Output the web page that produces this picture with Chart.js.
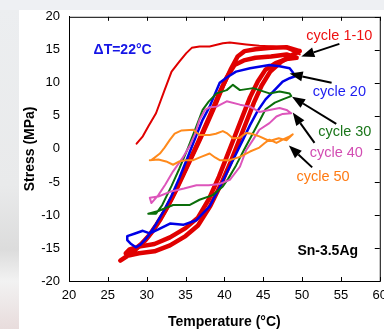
<!DOCTYPE html>
<html>
<head>
<meta charset="utf-8">
<script src="https://cdn.jsdelivr.net/npm/chart.js@4.4.0/dist/chart.umd.min.js"></script>
<style>
    html, body { margin: 0; padding: 0; }
    body { width: 384px; height: 329px; background: #eef0f3; position: relative; overflow: hidden; }
    #side { position: absolute; left: 0; top: 10px; width: 19px; height: 319px;
            background: linear-gradient(#eceef0 0%, #e9eaeb 55%, #dcdcdc 75%, #f2f2f2 85%, #e8dcdc 100%); }
    #panel { position: absolute; left: 19px; top: 10px; width: 375px; height: 319px; background: #fff; }
    #stressChart { position: absolute; left: 19px; top: 0; }
</style>
</head>
<body>
<div id="side"></div>
<div id="panel"></div>
<canvas id="stressChart" width="375" height="329"></canvas>
<script>
// Temperature (°C) / stress (MPa), one pair of arrays per curve

// cycle 1, first loading
const redFirstT = [28.7, 29.5, 30.2, 31.2, 32.3, 33.2, 34.2, 35.1, 35.8, 36.8, 38.1, 39.8, 40.7, 42.8, 44.5, 46.3, 48.0, 49.7];
const redFirstS = [0.8, 1.9, 3.4, 5.4, 8.9, 11.7, 13.2, 14.5, 15.3, 15.5, 15.5, 16.0, 16.1, 15.8, 15.6, 15.5, 15.2, 14.3];

// cycles 1-10 band (outer and inner loop)
const redOuterT = [49.7, 48.0, 46.0, 44.0, 42.6, 41.7, 40.8, 39.8, 38.8, 37.8, 36.8, 35.8, 34.8, 33.8, 32.8, 31.8, 30.8, 29.8, 28.8, 27.8, 26.6,
                   27.5, 29.0, 31.0, 33.0, 35.0, 36.6, 38.2, 39.7, 40.8, 41.8, 42.8, 43.8, 44.8, 45.9, 47.3, 48.7, 49.7];
const redOuterS = [14.8, 15.4, 15.3, 15.1, 14.8, 14.0, 12.0, 9.5, 6.6, 3.9, 1.3, -1.2, -3.7, -6.2, -8.5, -10.6, -12.4, -13.9, -15.0, -16.0, -16.9,
                   -16.2, -15.8, -15.5, -14.6, -13.2, -11.6, -8.6, -5.0, -2.0, 1.0, 4.0, 7.0, 9.6, 11.7, 13.2, 14.2, 14.8];
const redInnerT = [49.3, 48.0, 46.0, 44.0, 42.5, 41.3, 40.3, 39.3, 38.3, 37.3, 36.3, 35.3, 34.3, 33.3, 32.3, 31.3, 30.3, 29.3, 28.3, 27.3,
                   27.8, 29.0, 31.0, 33.0, 35.0, 36.6, 38.0, 39.3, 40.3, 41.3, 42.3, 43.3, 44.3, 45.3, 46.6, 48.0, 49.3];
const redInnerS = [13.8, 14.3, 14.0, 13.8, 13.4, 12.7, 10.8, 8.3, 5.5, 2.8, 0.2, -2.3, -4.8, -7.3, -9.5, -11.4, -13.1, -14.4, -15.3, -15.8,
                   -15.2, -14.8, -14.4, -13.4, -12.0, -10.4, -7.6, -4.2, -1.2, 1.8, 4.8, 7.8, 10.2, 12.0, 13.0, 13.6, 13.8];

// cycle 20
const blueT = [49.1, 48.8, 48.4, 47.1, 45.8, 43.3, 41.5, 40.3, 39.4, 38.6, 38.1, 37.2, 36.2, 35.2, 34.2, 33.2, 32.2, 31.2, 30.2, 29.2, 28.6, 28.0, 27.5, 27.5,
               28.5, 29.5, 30.4, 31.5, 33.0, 34.7, 36.4, 38.1, 39.4, 40.4, 41.4, 42.4, 43.3, 44.3, 45.3, 46.3, 47.5, 48.4, 49.1];
const blueS = [11.0, 11.6, 12.2, 12.5, 12.7, 12.2, 11.7, 10.8, 10.0, 7.8, 6.4, 4.4, 1.5, -1.5, -4.4, -7.1, -9.4, -11.4, -13.2, -14.5, -14.9, -14.4, -13.8, -13.2,
               -12.8, -12.4, -12.8, -12.2, -11.3, -11.5, -10.8, -8.7, -5.8, -3.4, -1.0, 1.4, 3.6, 5.8, 7.5, 8.7, 10.2, 10.7, 11.0];

// cycle 30
const greenT = [48.6, 48.4, 47.1, 45.8, 44.5, 43.7, 42.0, 41.1, 40.3, 39.0, 38.0, 37.2, 36.2, 35.2, 34.2, 33.2, 32.0, 31.2, 30.2,
                31.5, 33.4, 35.5, 36.8, 38.5, 39.8, 40.5, 41.5, 42.5, 43.5, 44.5, 45.3, 46.5, 47.5, 48.6];
const greenS = [8.0, 8.4, 8.7, 8.4, 8.9, 9.2, 8.9, 9.7, 8.9, 8.4, 7.2, 5.9, 2.8, -0.2, -3.0, -5.6, -8.5, -9.8, -9.8,
                -9.4, -8.5, -8.5, -7.7, -7.0, -5.7, -4.5, -2.5, -0.2, 2.0, 4.2, 6.0, 7.0, 7.5, 8.0];

// cycle 40
const pinkT = [48.6, 48.0, 47.1, 45.8, 44.5, 43.3, 42.0, 40.3, 39.0, 38.1, 37.5, 36.8, 36.2, 35.6, 34.6, 33.4, 32.4, 31.5, 30.6,
               30.4, 31.5, 33.0, 34.8, 36.4, 38.0, 39.4, 40.7, 42.0, 42.8, 43.7, 44.5, 45.8, 46.7, 47.5, 48.6];
const pinkS = [5.4, 5.9, 6.2, 5.9, 5.6, 6.4, 6.7, 7.2, 6.4, 6.3, 5.9, 4.4, 2.2, 0.6, -1.4, -3.4, -5.4, -7.0, -8.2,
               -7.4, -7.2, -6.5, -6.0, -5.5, -5.5, -5.3, -4.7, -2.7, -0.2, 1.4, 2.9, 3.9, 4.9, 5.3, 5.4];

// cycle 50
const orangeT = [30.4, 31.5, 32.5, 33.4, 34.2, 35.1, 36.0, 37.0, 38.1, 38.8, 39.4, 40.7, 42.0, 43.3, 44.5, 45.2, 45.8, 46.7, 47.5, 48.4, 48.8,
                 48.0, 47.0, 45.8, 44.5, 43.5, 42.8, 42.0, 41.1, 40.3, 39.8, 38.9, 38.1, 36.8, 36.0, 34.5, 33.6, 33.0, 32.3, 31.7, 30.6];
const orangeS = [-1.7, -1.6, -1.9, -2.4, -1.9, -1.7, -1.7, -1.2, -0.7, -1.3, -1.7, -1.7, -1.2, -0.4, 0.2, 0.9, 1.4, 0.9, 1.4, 1.9, 2.2,
                 1.3, 1.6, 1.2, 1.9, 2.3, 2.4, 1.7, 1.6, 2.4, 2.7, 2.3, 2.1, 2.1, 2.9, 2.8, 2.3, 1.4, 0.2, -0.7, -1.7];

// axis ticks
const tempTicks = [20, 25, 30, 35, 40, 45, 50, 55, 60];
const stressTicks = [-20, -15, -10, -5, 0, 5, 10, 15, 20];

// labels and arrows, placed in data units
const noteText = ['cycle 1-10', 'cycle 20', 'cycle 30', 'cycle 40', 'cycle 50'];
const noteT = [54.8, 54.8, 55.5, 54.4, 52.7];
const noteS = [17.1, 8.6, 2.6, -0.6, -4.2];
const arrowFromT = [54.8, 53.8, 54.4, 51.6, 51.3];
const arrowFromS = [15.9, 10.0, 3.8, 0.9, -2.8];
const arrowToT = [49.9, 48.4, 48.7, 48.8, 48.3];
const arrowToS = [14.0, 11.4, 7.9, 5.5, 0.5];

const noteColors = ['#ee1111', '#1c1cf0', '#1a761a', '#d24db2', '#ff7a12'];

function pairs(xs, ys) {
    return xs.map((x, i) => ({ x: x, y: ys[i] }));
}

function curve(label, xs, ys, color, width) {
    return {
        label: label,
        data: pairs(xs, ys),
        showLine: true,
        borderColor: color,
        backgroundColor: color,
        borderWidth: width,
        pointRadius: 0,
        tension: 0,
        borderJoinStyle: 'round',
        borderCapStyle: 'round'
    };
}

// inside ticks, full frame, text notes and arrows
const decorations = {
    id: 'decorations',
    afterDraw(chart) {
        const ctx = chart.ctx;
        const area = chart.chartArea;
        const xs = chart.scales.x;
        const ys = chart.scales.y;

        ctx.save();
        ctx.strokeStyle = '#000';
        ctx.lineWidth = 1;
        ctx.strokeRect(area.left + 0.5, area.top + 0.5, area.right - area.left, area.bottom - area.top);

        ctx.beginPath();
        tempTicks.forEach(t => {
            const px = Math.round(xs.getPixelForValue(t)) + 0.5;
            ctx.moveTo(px, area.bottom);
            ctx.lineTo(px, area.bottom - 4);
            ctx.moveTo(px, area.top);
            ctx.lineTo(px, area.top + 4);
        });
        stressTicks.forEach(s => {
            const py = Math.round(ys.getPixelForValue(s)) + 0.5;
            ctx.moveTo(area.right, py);
            ctx.lineTo(area.right - 5, py);
        });
        ctx.stroke();

        // arrows
        ctx.fillStyle = '#000';
        ctx.lineWidth = 2;
        arrowFromT.forEach((t, i) => {
            const x0 = xs.getPixelForValue(t);
            const y0 = ys.getPixelForValue(arrowFromS[i]);
            const x1 = xs.getPixelForValue(arrowToT[i]);
            const y1 = ys.getPixelForValue(arrowToS[i]);
            const ang = Math.atan2(y1 - y0, x1 - x0);
            const head = 13;
            const bx = x1 - head * Math.cos(ang);
            const by = y1 - head * Math.sin(ang);
            ctx.beginPath();
            ctx.moveTo(x0, y0);
            ctx.lineTo(bx, by);
            ctx.stroke();
            ctx.beginPath();
            ctx.moveTo(x1, y1);
            ctx.lineTo(bx + 5 * Math.sin(ang), by - 5 * Math.cos(ang));
            ctx.lineTo(bx - 5 * Math.sin(ang), by + 5 * Math.cos(ang));
            ctx.closePath();
            ctx.fill();
        });

        // text
        ctx.textAlign = 'center';
        ctx.textBaseline = 'middle';
        ctx.font = '14.5px "Liberation Sans", Arial, sans-serif';
        noteText.forEach((txt, i) => {
            ctx.fillStyle = noteColors[i];
            ctx.fillText(txt, xs.getPixelForValue(noteT[i]), ys.getPixelForValue(noteS[i]));
        });
        ctx.font = 'bold 14px "Liberation Sans", Arial, sans-serif';
        ctx.fillStyle = '#1515e6';
        ctx.fillText('\u0394T=22\u00B0C', xs.getPixelForValue(26.9), ys.getPixelForValue(15.0));
        ctx.fillStyle = '#000';
        ctx.fillText('Sn-3.5Ag', xs.getPixelForValue(53.3), ys.getPixelForValue(-15.5));
        ctx.restore();
    }
};

const tickFont = { family: '"Liberation Sans", Arial, sans-serif', size: 13 };
const titleFont = { family: '"Liberation Sans", Arial, sans-serif', size: 14, weight: 'bold', lineHeight: 1 };

new Chart(document.getElementById('stressChart').getContext('2d'), {
    type: 'scatter',
    data: {
        datasets: [
            curve('cycle 50', orangeT, orangeS, '#ff8a1c', 2),
            curve('cycle 40', pinkT, pinkS, '#dd55bb', 2),
            curve('cycle 30', greenT, greenS, '#0b6e0b', 2),
            curve('cycle 20', blueT, blueS, '#0000e6', 2.5),
            curve('cycle 1', redFirstT, redFirstS, '#e00000', 2),
            curve('cycle 1-10 outer', redOuterT, redOuterS, '#e00000', 4.5),
            curve('cycle 1-10 inner', redInnerT, redInnerS, '#e00000', 4.5)
        ]
    },
    options: {
        responsive: false,
        animation: false,
        layout: { padding: { top: 0, right: 14, left: 0, bottom: 0 } },
        plugins: {
            legend: { display: false },
            tooltip: { enabled: false }
        },
        scales: {
            x: {
                type: 'linear',
                min: 20,
                max: 60,
                afterFit: scale => { scale.height = 48; },
                afterBuildTicks: scale => { scale.ticks = tempTicks.map(v => ({ value: v })); },
                ticks: { color: '#000', font: tickFont, padding: 7 },
                grid: { drawOnChartArea: false, drawTicks: false },
                border: { display: true, color: '#000', width: 1 },
                title: { display: true, text: 'Temperature (\u00B0C)', color: '#000', font: titleFont, padding: { top: 0, bottom: 0 } }
            },
            y: {
                type: 'linear',
                min: -20,
                max: 20,
                afterFit: scale => { scale.width = 50; },
                afterBuildTicks: scale => { scale.ticks = stressTicks.map(v => ({ value: v })); },
                ticks: { color: '#000', font: tickFont, padding: 9 },
                grid: { drawOnChartArea: false, drawTicks: false },
                border: { display: true, color: '#000', width: 1 },
                title: { display: true, text: 'Stress (MPa)', color: '#000', font: titleFont, padding: { top: 4, bottom: 0 } }
            }
        }
    },
    plugins: [decorations]
});
</script>
</body>
</html>
